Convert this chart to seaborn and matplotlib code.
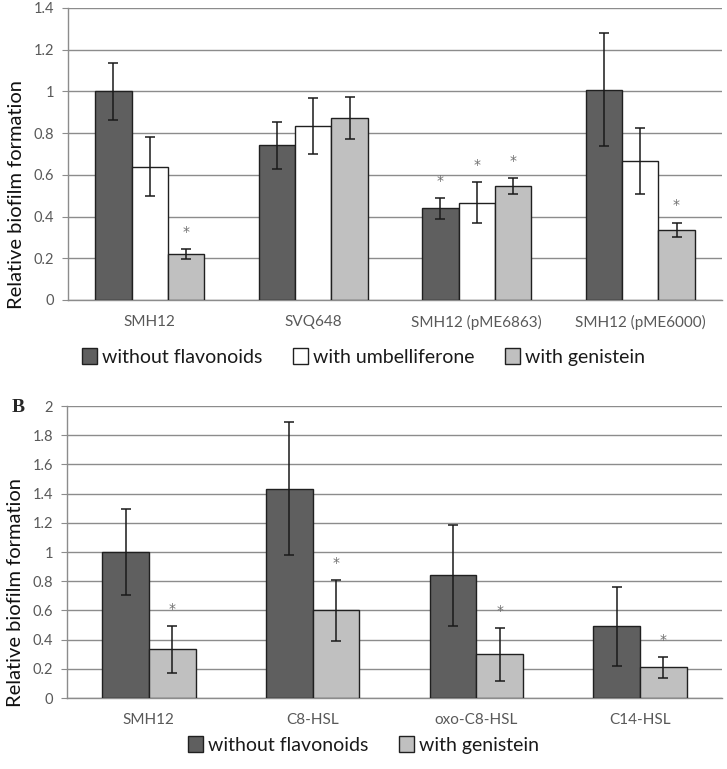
import pandas as pd
import matplotlib.pyplot as plt
import seaborn as sns

# Panel A
strains_a = ["SMH12", "SVQ648", "SMH12 (pME6863)", "SMH12 (pME6000)"]
groups_a = ["without flavonoids", "with umbelliferone", "with genistein"]
mean_none_a = [1.0, 0.742, 0.44, 1.008]
err_none_a = [0.137, 0.113, 0.05, 0.27]
mean_umb_a = [0.64, 0.835, 0.467, 0.666]
err_umb_a = [0.143, 0.133, 0.097, 0.157]
mean_gen_a = [0.221, 0.872, 0.547, 0.336]
err_gen_a = [0.024, 0.102, 0.039, 0.035]
star_none_a = [False, False, True, False]
star_umb_a = [False, False, True, False]
star_gen_a = [True, False, True, True]

# Panel B
strains_b = ["SMH12", "C8-HSL", "oxo-C8-HSL", "C14-HSL"]
groups_b = ["without flavonoids", "with genistein"]
mean_none_b = [1.0, 1.435, 0.84, 0.49]
err_none_b = [0.295, 0.455, 0.345, 0.27]
mean_gen_b = [0.333, 0.60, 0.30, 0.21]
err_gen_b = [0.162, 0.21, 0.18, 0.07]
star_none_b = [False, False, False, False]
star_gen_b = [True, True, True, True]

colors = {"without flavonoids": "#5f5f5f", "with umbelliferone": "#ffffff",
          "with genistein": "#c0c0c0"}

sns.set_style("white")
plt.rcParams["font.family"] = ["Lato", "DejaVu Sans"]


def long_table(strains, groups, means):
    rows = []
    for g, vals in zip(groups, means):
        for s, v in zip(strains, vals):
            rows.append({"strain": s, "group": g, "value": v})
    return pd.DataFrame(rows)


def draw_panel(ax, strains, groups, means, errs, stars, width, ymax, leg_y, fig):
    df = long_table(strains, groups, means)
    sns.barplot(data=df, x="strain", y="value", hue="group", order=strains,
                hue_order=groups, palette=colors, width=width, errorbar=None,
                edgecolor="#202020", linewidth=1.0, ax=ax, zorder=3)
    for cont, vals, er, st in zip(ax.containers, means, errs, stars):
        xs = [p.get_x() + p.get_width() / 2 for p in cont.patches]
        ax.errorbar(xs, vals, yerr=er, fmt="none", ecolor="#1a1a1a",
                    elinewidth=1.1, capsize=3.5, capthick=1.1, zorder=4)
        for x, v, e, s in zip(xs, vals, er, st):
            if s:
                ax.text(x, v + e + ymax * 0.035, "*", ha="center", va="bottom",
                        fontsize=10, color="#707070", family="DejaVu Sans")
    handles, labels = ax.get_legend_handles_labels()
    ax.get_legend().remove()
    fig.legend(handles, labels, loc="center", bbox_to_anchor=(0.5, leg_y),
               ncol=len(groups), frameon=False, fontsize=14,
               handlelength=0.75, handleheight=0.9, handletextpad=0.25,
               columnspacing=1.6, labelcolor="#1a1a1a")

    ax.set_ylim(0, ymax)
    step = 0.2
    ticks = [round(i * step, 1) for i in range(int(round(ymax / step)) + 1)]
    ax.set_yticks(ticks)
    ax.set_yticklabels([f"{t:g}" for t in ticks])
    ax.set_xlim(-0.5, len(strains) - 0.5)
    ax.set_xticks(range(len(strains)))
    ax.set_xticks([i - 0.5 for i in range(len(strains) + 1)], minor=True)
    ax.tick_params(axis="x", which="major", length=0, pad=11,
                   labelsize=11, labelcolor="#595959")
    ax.tick_params(axis="x", which="minor", length=5, color="#8c8c8c", width=1)
    ax.tick_params(axis="y", length=4, color="#8c8c8c", labelsize=10.5,
                   labelcolor="#595959", pad=6, left=True)
    ax.yaxis.grid(True, color="#8c8c8c", linewidth=1.0, zorder=0)
    ax.set_axisbelow(True)
    for side in ["top", "right"]:
        ax.spines[side].set_visible(False)
    for side in ["left", "bottom"]:
        ax.spines[side].set_color("#8c8c8c")
        ax.spines[side].set_linewidth(1.0)
    ax.set_xlabel("")
    ax.set_ylabel("Relative biofilm formation", fontsize=14.5, color="#111111")
    ax.yaxis.set_label_coords(-0.066, 0.36)


fig = plt.figure(figsize=(7.27, 7.69), dpi=100)
ax_a = fig.add_axes([0.0935, 0.6099, 0.8995, 0.3797])
ax_b = fig.add_axes([0.0922, 0.0923, 0.9008, 0.3797])

draw_panel(ax_a, strains_a, groups_a,
           [mean_none_a, mean_umb_a, mean_gen_a],
           [err_none_a, err_umb_a, err_gen_a],
           [star_none_a, star_umb_a, star_gen_a],
           0.667, 1.4, 1 - 357 / 769, fig)
draw_panel(ax_b, strains_b, groups_b,
           [mean_none_b, mean_gen_b],
           [err_none_b, err_gen_b],
           [star_none_b, star_gen_b],
           0.57, 2.0, 1 - 745 / 769, fig)

fig.text(0.016, 1 - 407 / 769, "B", fontsize=14, fontweight="bold",
         family="Liberation Serif", va="center", ha="left")

fig.savefig("out.png", dpi=100)
